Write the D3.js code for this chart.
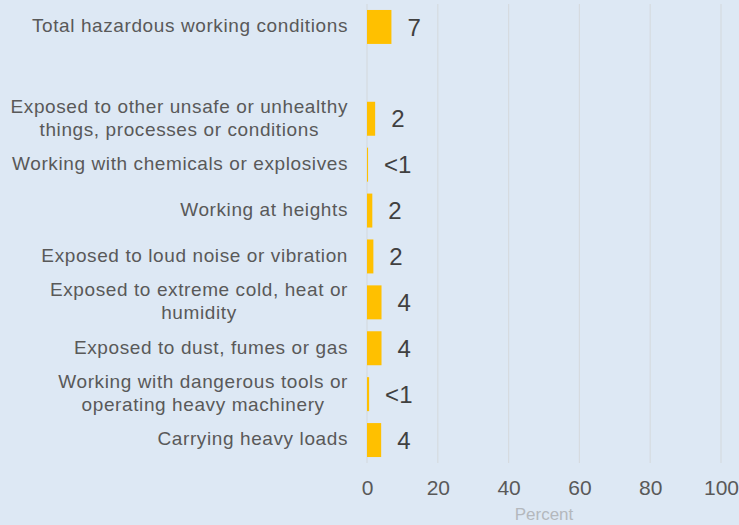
<!DOCTYPE html>
<html>
<head>
<meta charset="utf-8">
<script src="https://cdn.jsdelivr.net/npm/d3@7"></script>
<style>
  html, body { margin: 0; padding: 0; background: #dde8f4; }
  svg { display: block; font-family: "Liberation Sans", Arial, sans-serif; }
</style>
</head>
<body>
<svg id="chart" width="739" height="525"></svg>
<script>
// categories, top to bottom (empty one is the gap row)
var categories = [
  ['Total hazardous working conditions'],
  [''],
  ['Exposed to other unsafe or unhealthy', 'things, processes or conditions'],
  ['Working with chemicals or explosives'],
  ['Working at heights'],
  ['Exposed to loud noise or vibration'],
  ['Exposed to extreme cold, heat or', 'humidity'],
  ['Exposed to dust, fumes or gas'],
  ['Working with dangerous tools or', 'operating heavy machinery'],
  ['Carrying heavy loads']
];
var values      = [ 6.9, null, 2.3, 0.3, 1.5, 1.8, 4.1, 4.1, 0.6, 4.0 ];
var valueLabels = [ '7', '', '2', '<1', '2', '2', '4', '4', '<1', '4' ];
var xTicks      = [ 0, 20, 40, 60, 80, 100 ];

var margin = { top: 4, left: 367, right: 18, bottom: 62 },
    width  = 739 - margin.left - margin.right,
    height = 525 - margin.top - margin.bottom;

var svg = d3.select('#chart');
var g = svg.append('g').attr('transform', 'translate(' + margin.left + ',' + margin.top + ')');

var xScale = d3.scaleLinear().domain([0, 100]).range([0, width]);
var yScale = d3.scaleBand()
    .domain(d3.range(categories.length))
    .range([0, height])
    .paddingInner(0.26)
    .paddingOuter(0.13);

// gridlines
g.selectAll('.grid')
  .data(xTicks)
  .enter().append('line')
    .attr('x1', function(d) { return xScale(d); })
    .attr('x2', function(d) { return xScale(d); })
    .attr('y1', 0)
    .attr('y2', height)
    .attr('stroke', '#d6dbe0')
    .attr('stroke-width', 1.2);

// x axis tick labels
var xAxis = d3.axisBottom(xScale).tickValues(xTicks).tickSize(0).tickPadding(17);
var ax = g.append('g').attr('transform', 'translate(0,' + height + ')').call(xAxis);
ax.select('.domain').remove();
ax.selectAll('text')
  .attr('font-size', 21)
  .attr('font-family', '"Liberation Sans", Arial, sans-serif')
  .attr('fill', '#595959');

svg.append('text')
  .attr('x', 544)
  .attr('y', 520)
  .attr('text-anchor', 'middle')
  .attr('font-size', 17)
  .attr('fill', '#b4b8bd')
  .text('Percent');

// bars
var rows = d3.range(categories.length).filter(function(i) { return values[i] !== null; });

g.selectAll('.bar')
  .data(rows)
  .enter().append('rect')
    .attr('x', xScale(0))
    .attr('y', function(i) { return yScale(i); })
    .attr('width', function(i) { return Math.max(1, xScale(values[i]) - xScale(0)); })
    .attr('height', yScale.bandwidth())
    .attr('fill', '#ffc000');

// value labels
g.selectAll('.val')
  .data(rows)
  .enter().append('text')
    .attr('x', function(i) { return Math.max(1, xScale(values[i])) + 16; })
    .attr('y', function(i) { return yScale(i) + yScale.bandwidth() / 2; })
    .attr('dy', '0.36em')
    .attr('font-size', 24)
    .attr('fill', '#404040')
    .text(function(i) { return valueLabels[i]; });

// category labels: block right aligned, lines centred within block
var rightEdge = -19, lineH = 23;
categories.forEach(function(lines, i) {
  if (!lines[0]) return;
  var cy = yScale(i) + yScale.bandwidth() / 2 - 1.5;
  var t = g.append('text')
    .attr('font-size', 19)
    .attr('letter-spacing', 0.6)
    .attr('fill', '#595959')
    .attr('text-anchor', 'middle');
  var spans = lines.map(function(l, k) {
    return t.append('tspan')
      .attr('y', cy + (k - (lines.length - 1) / 2) * lineH)
      .attr('dy', '0.36em')
      .text(l);
  });
  var w = d3.max(spans, function(s) { return s.node().getComputedTextLength(); });
  spans.forEach(function(s) { s.attr('x', rightEdge - w / 2); });
});
</script>
</body>
</html>
